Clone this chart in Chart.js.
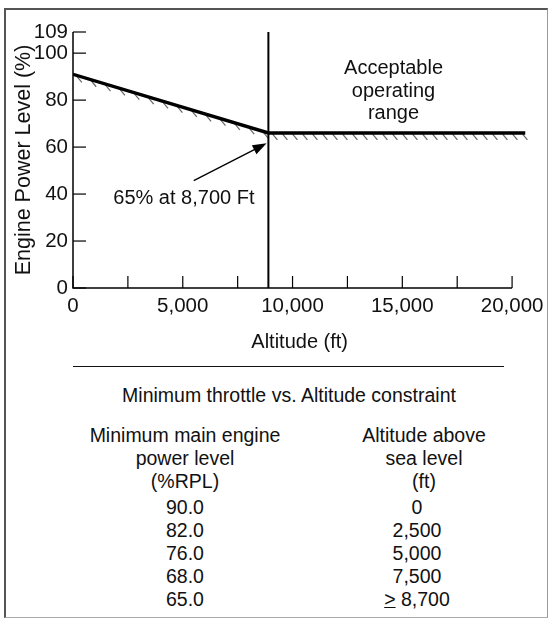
<!DOCTYPE html>
<html>
<head>
<meta charset="utf-8">
<script src="https://cdn.jsdelivr.net/npm/chart.js@4.4.1/dist/chart.umd.min.js"></script>
<style>
  body { margin: 0; background: #fff; font-family: "Liberation Sans", Arial, sans-serif; }
  #frame {
    position: absolute; left: 4px; top: 8px; width: 541px; height: 607px;
    border-left: 2px solid #555; border-top: 2px solid #555;
    border-right: 1px solid #999; border-bottom: 1px solid #aaa;
  }
  #chartBox { position: absolute; left: 0; top: 0; width: 550px; height: 360px; }
  #rule { position: absolute; left: 73px; top: 366px; width: 431px; border-top: 1.5px solid #111; }
  .t { position: absolute; text-align: center; font-size: 19.5px; line-height: 23px; color: #111; white-space: nowrap; }
</style>
</head>
<body>
<div id="frame"></div>
<div id="chartBox"><canvas id="chart" width="550" height="360"></canvas></div>
<div id="rule"></div>
<div class="t" id="tableTitle" style="left:89px; top:384px; width:400px;"></div>
<div class="t" id="colPowerHead" style="left:85px; top:424px; width:200px;"></div>
<div class="t" id="colAltHead" style="left:324px; top:424px; width:200px;"></div>
<div class="t" id="colPower" style="left:85px; top:496px; width:200px;"></div>
<div class="t" id="colAlt" style="left:317px; top:496px; width:200px;"></div>
<script>
// constraint line: minimum power level vs altitude
const altitudeFt = [0, 8900, 20600];
const powerLevel = [91, 66, 66];
const limitAltitude = 8900;

const xTickValues = [0, 2500, 5000, 7500, 10000, 12500, 15000, 17500, 20000];
const yTickValues = [0, 20, 40, 60, 80, 100, 109];

// table below the chart
const tableTitle = "Minimum throttle vs. Altitude constraint";
const powerHeader = ["Minimum main engine", "power level", "(%RPL)"];
const altHeader = ["Altitude above", "sea level", "(ft)"];
const tablePower = ["90.0", "82.0", "76.0", "68.0", "65.0"];
const tableAltitude = ["0", "2,500", "5,000", "7,500", "≥ 8,700"];

const FONT = "'Liberation Sans', Arial, sans-serif";

document.getElementById("tableTitle").textContent = tableTitle;
document.getElementById("colPowerHead").innerHTML = powerHeader.join("<br>");
document.getElementById("colAltHead").innerHTML = altHeader.join("<br>");
document.getElementById("colPower").innerHTML = tablePower.join("<br>");
document.getElementById("colAlt").innerHTML = tableAltitude
  .map((s) => s.replace("≥", "<u>&gt;</u>"))
  .join("<br>");

// axes, inward ticks, hatching and annotations
const decorations = {
  id: "decorations",
  beforeDatasetsDraw(chart) {
    const c = chart.ctx;
    const x = chart.scales.x;
    const y = chart.scales.y;
    const spacing = [15, 10];
    c.save();
    c.strokeStyle = "#666";
    c.lineWidth = 1.2;
    for (let i = 0; i < altitudeFt.length - 1; i++) {
      const x0 = x.getPixelForValue(altitudeFt[i]);
      const y0 = y.getPixelForValue(powerLevel[i]);
      const x1 = x.getPixelForValue(altitudeFt[i + 1]);
      const y1 = y.getPixelForValue(powerLevel[i + 1]);
      const len = Math.hypot(x1 - x0, y1 - y0);
      for (let d = 4; d < len - 2; d += spacing[i]) {
        const px = x0 + ((x1 - x0) * d) / len;
        const py = y0 + ((y1 - y0) * d) / len;
        c.beginPath();
        c.moveTo(px, py + 1);
        c.lineTo(px + 5, py + 7);
        c.stroke();
      }
    }
    c.restore();
  },
  afterDatasetsDraw(chart) {
    const c = chart.ctx;
    const x = chart.scales.x;
    const y = chart.scales.y;
    const left = x.getPixelForValue(0);
    const bottom = y.getPixelForValue(0);
    c.save();
    c.strokeStyle = "#000";
    c.lineWidth = 1.5;
    c.beginPath();
    c.moveTo(left, y.getPixelForValue(109));
    c.lineTo(left, bottom);
    c.lineTo(x.getPixelForValue(20000), bottom);
    c.stroke();
    c.lineWidth = 1.2;
    xTickValues.forEach((v) => {
      const px = x.getPixelForValue(v);
      c.beginPath();
      c.moveTo(px, bottom);
      c.lineTo(px, bottom - 12);
      c.stroke();
    });
    yTickValues.forEach((v) => {
      const py = y.getPixelForValue(v);
      c.beginPath();
      c.moveTo(left, py);
      c.lineTo(left + 13, py);
      c.stroke();
    });

    // arrow to the break point
    const ax0 = x.getPixelForValue(5500), ay0 = y.getPixelForValue(45.7);
    const ax1 = x.getPixelForValue(8820), ay1 = y.getPixelForValue(61.6);
    const ang = Math.atan2(ay1 - ay0, ax1 - ax0);
    c.lineWidth = 1.3;
    c.beginPath();
    c.moveTo(ax0, ay0);
    c.lineTo(ax1 - 10 * Math.cos(ang), ay1 - 10 * Math.sin(ang));
    c.stroke();
    c.fillStyle = "#000";
    c.beginPath();
    c.moveTo(ax1, ay1);
    c.lineTo(ax1 - 14 * Math.cos(ang) + 5 * Math.sin(ang), ay1 - 14 * Math.sin(ang) - 5 * Math.cos(ang));
    c.lineTo(ax1 - 14 * Math.cos(ang) - 5 * Math.sin(ang), ay1 - 14 * Math.sin(ang) + 5 * Math.cos(ang));
    c.closePath();
    c.fill();

    c.fillStyle = "#111";
    c.font = "20px " + FONT;
    c.textAlign = "center";
    c.textBaseline = "middle";
    c.fillText("65% at 8,700 Ft", x.getPixelForValue(5050), y.getPixelForValue(38));
    const tx = x.getPixelForValue(14600);
    const ty = y.getPixelForValue(93.3);
    ["Acceptable", "operating", "range"].forEach((s, i) => c.fillText(s, tx, ty + i * 22.5));
    c.restore();
  },
};

const ctx = document.getElementById("chart").getContext("2d");
new Chart(ctx, {
  type: "scatter",
  data: {
    datasets: [
      {
        data: altitudeFt.map((a, i) => ({ x: a, y: powerLevel[i] })),
        showLine: true,
        borderColor: "#000",
        borderWidth: 3.4,
        pointRadius: 0,
      },
      {
        data: [
          { x: limitAltitude, y: 0 },
          { x: limitAltitude, y: 109.5 },
        ],
        showLine: true,
        borderColor: "#000",
        borderWidth: 2,
        pointRadius: 0,
      },
    ],
  },
  options: {
    responsive: false,
    animation: false,
    layout: { padding: { top: 32, right: 18 } },
    plugins: { legend: { display: false }, tooltip: { enabled: false } },
    scales: {
      x: {
        type: "linear",
        min: 0,
        max: 20650,
        afterBuildTicks: (s) => {
          s.ticks = xTickValues.map((v) => ({ value: v }));
        },
        afterFit: (s) => {
          s.height = 72;
        },
        grid: { display: false, drawTicks: false },
        border: { display: false },
        ticks: {
          autoSkip: false,
          maxRotation: 0,
          padding: 6,
          color: "#111",
          font: { family: FONT, size: 20.5 },
          callback: (v) => (v % 5000 === 0 ? v.toLocaleString("en-US") : ""),
        },
        title: {
          display: true,
          text: "Altitude (ft)",
          color: "#111",
          font: { family: FONT, size: 20 },
          padding: { top: 4, bottom: 6 },
        },
      },
      y: {
        type: "linear",
        min: 0,
        max: 109,
        afterBuildTicks: (s) => {
          s.ticks = yTickValues.map((v) => ({ value: v }));
        },
        afterFit: (s) => {
          s.width = 73;
        },
        grid: { display: false, drawTicks: false },
        border: { display: false },
        ticks: {
          autoSkip: false,
          padding: 5,
          color: "#111",
          font: { family: FONT, size: 20.5 },
        },
        title: {
          display: true,
          text: "Engine Power Level (%)",
          color: "#111",
          font: { family: FONT, size: 21.5 },
          padding: { top: 11, bottom: 0 },
        },
      },
    },
  },
  plugins: [decorations],
});
</script>
</body>
</html>
